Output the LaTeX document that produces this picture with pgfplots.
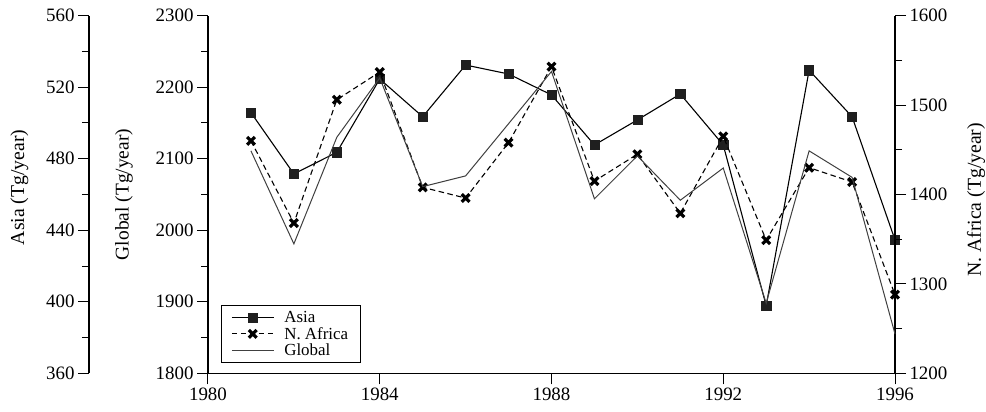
\documentclass[border=0pt]{standalone}
\usepackage{fontspec}
\setmainfont{Liberation Serif}
\usepackage{pgfplots}
\pgfplotsset{compat=1.18}
\pgfplotsset{
  base/.style={
    scale only axis, width=687bp, height=357.6bp,
    xmin=1980, xmax=1996,
    clip=false,
    tick align=outside,
    major tick length=11bp, minor tick length=7bp,
    every tick/.style={black, line width=1bp},
    axis line style={-, line width=1.2bp},
    tick label style={font=\fontsize{19}{19}\selectfont},
    /pgf/number format/assume math mode=true,
    /pgf/number format/1000 sep={},
    minor y tick num=1,
  },
  asiastyle/.style={black, line width=1.1bp, mark=square*, mark size=4.6bp,
    mark options={solid, fill=black!88, draw=black!88, line width=0.5bp}},
  nafstyle/.style={black, line width=1.1bp, dash pattern=on 5.5bp off 3.5bp,
    mark=x, mark size=5.5bp, mark options={solid, line width=3.2bp}},
  globstyle/.style={black!75, line width=1bp},
}
\begin{document}
\begin{tikzpicture}
% Asia axis
\begin{axis}[base, hide x axis, axis y line*=left, axis y line shift=119bp,
  ymin=360, ymax=560, ytick={360,400,...,560},
  ylabel={Asia (Tg/year)},
  every axis y label/.style={at={(axis description cs:-0.2744,0.52)}, rotate=90, anchor=center, font=\fontsize{19.8}{20}\selectfont}]
\addplot[asiastyle] coordinates {
(1981,505.8) (1982,471.5) (1983,483.6) (1984,524.6) (1985,503.5) (1986,532.4)
(1987,527.4) (1988,515.7) (1989,487.7) (1990,501.7) (1991,516.2) (1992,487.7)
(1993,397.8) (1994,529.5) (1995,503.5) (1996,434.6)};
\end{axis}
% N. Africa axis
\begin{axis}[base, hide x axis, axis y line*=right,
  ymin=1200, ymax=1600, ytick={1200,1300,...,1600},
  ylabel={N. Africa (Tg/year)},
  every axis y label/.style={at={(axis description cs:1.1179,0.485)}, rotate=90, anchor=center, font=\fontsize{19.8}{20}\selectfont}]
\addplot[nafstyle] coordinates {
(1981,1460) (1982,1368) (1983,1506) (1984,1537) (1985,1408) (1986,1396)
(1987,1458) (1988,1543) (1989,1415) (1990,1445) (1991,1379) (1992,1465)
(1993,1349) (1994,1430) (1995,1414) (1996,1288)};
\end{axis}
% Global axis
\begin{axis}[base, axis x line*=bottom, axis y line*=left,
  ymin=1800, ymax=2300, ytick={1800,1900,...,2300},
  xtick={1980,1984,...,1996}, minor x tick num=1,
  ylabel={Global (Tg/year)},
  every axis y label/.style={at={(axis description cs:-0.1223,0.5)}, rotate=90, anchor=center, font=\fontsize{19.5}{20}\selectfont},
  legend cell align=left,
  legend image code/.code={\draw[mark repeat=2,mark phase=2,#1] plot coordinates {(0bp,0bp)(21bp,0bp)(42bp,0bp)};},
  legend style={at={(axis description cs:0.0185,0.028)}, anchor=south west,
    draw=black, line width=1bp, inner xsep=10bp, inner ysep=4bp,
    font=\fontsize{17}{17}\selectfont, row sep=-1bp, column sep=8bp}]
\addlegendimage{asiastyle}\addlegendentry{Asia}
\addlegendimage{nafstyle}\addlegendentry{N. Africa}
\addplot[globstyle] coordinates {
(1981,2111) (1982,1981) (1983,2130) (1984,2213) (1985,2061) (1986,2076)
(1987,2149) (1988,2222) (1989,2044) (1990,2104) (1991,2042) (1992,2087)
(1993,1898) (1994,2111) (1995,2074) (1996,1855)};
\addlegendentry{Global}
\end{axis}
\pgfresetboundingbox
\useasboundingbox (-208bp,-38.7bp) rectangle (778bp,373.3bp);
\end{tikzpicture}
\end{document}
